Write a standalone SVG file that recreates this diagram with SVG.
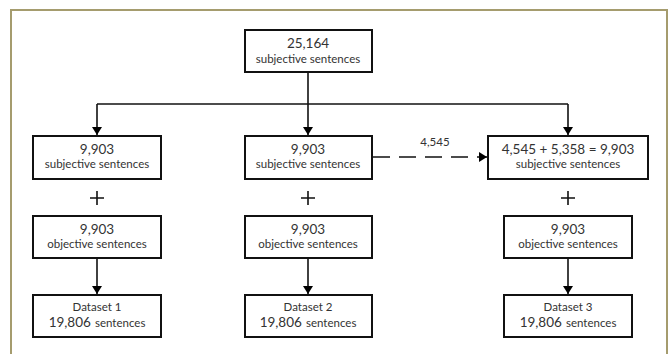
<svg xmlns="http://www.w3.org/2000/svg" width="671" height="354" viewBox="0 0 671 354">
<defs>
<marker id="ah" markerWidth="8" markerHeight="10" refX="8" refY="5" orient="auto" markerUnits="userSpaceOnUse">
<path d="M0,0 L8,5 L0,10 Z" fill="#000"/>
</marker>
<style>
.box{fill:#fff;stroke:#111;stroke-width:2}
.ln{fill:none;stroke:#111;stroke-width:1.6}
.t{font-family:Lato,"Open Sans","Liberation Sans",sans-serif;fill:#333;text-anchor:middle}
.big{font-size:13.5px}
.sm{font-size:11.5px}
.plus{stroke:#111;stroke-width:1.6}
</style>
</defs>
<rect x="0" y="0" width="671" height="354" fill="#fff"/>
<rect x="11" y="10" width="656" height="360" fill="#fff" stroke="#a59c6e" stroke-width="2"/>

<g id="connectors">
<path class="ln" d="M308,72 V104"/>
<path class="ln" d="M97,104 H568"/>
<path class="ln" d="M97,104 V135" marker-end="url(#ah)"/>
<path class="ln" d="M308,104 V135" marker-end="url(#ah)"/>
<path class="ln" d="M568,104 V135" marker-end="url(#ah)"/>
<path class="ln" d="M373,157 H487" stroke-dasharray="17 9" marker-end="url(#ah)"/>
<path class="ln" d="M97,258 V294" marker-end="url(#ah)"/>
<path class="ln" d="M308,258 V294" marker-end="url(#ah)"/>
<path class="ln" d="M568,258 V294" marker-end="url(#ah)"/>
<text class="t sm" x="435" y="146">4,545</text>
</g>

<g id="top">
<rect class="box" x="245" y="30" width="127" height="42"/>
<text class="t big" x="308" y="48">25,164</text>
<text class="t sm" x="308" y="63">subjective sentences</text>
</g>

<g id="subj1">
<rect class="box" x="33" y="136" width="128" height="43"/>
<text class="t big" x="97" y="154">9,903</text>
<text class="t sm" x="97" y="168">subjective sentences</text>
</g>
<g id="subj2">
<rect class="box" x="245" y="136" width="127" height="43"/>
<text class="t big" x="308" y="154">9,903</text>
<text class="t sm" x="308" y="168">subjective sentences</text>
</g>
<g id="subj3">
<rect class="box" x="488" y="136" width="160" height="43"/>
<text class="t big" x="568" y="154">4,545 + 5,358 = 9,903</text>
<text class="t sm" x="568" y="168">subjective sentences</text>
</g>

<g id="plus1"><path class="plus" d="M90,198 H104 M97,191 V205"/></g>
<g id="plus2"><path class="plus" d="M301,198 H315 M308,191 V205"/></g>
<g id="plus3"><path class="plus" d="M561,198 H575 M568,191 V205"/></g>

<g id="obj1">
<rect class="box" x="33" y="216" width="128" height="42"/>
<text class="t big" x="97" y="234">9,903</text>
<text class="t sm" x="97" y="248">objective sentences</text>
</g>
<g id="obj2">
<rect class="box" x="245" y="216" width="127" height="42"/>
<text class="t big" x="308" y="234">9,903</text>
<text class="t sm" x="308" y="248">objective sentences</text>
</g>
<g id="obj3">
<rect class="box" x="504" y="216" width="128" height="42"/>
<text class="t big" x="568" y="234">9,903</text>
<text class="t sm" x="568" y="248">objective sentences</text>
</g>

<g id="ds1">
<rect class="box" x="33" y="295" width="128" height="42"/>
<text class="t sm" x="97" y="311">Dataset 1</text>
<text class="t" x="97" y="327"><tspan class="big">19,806</tspan> <tspan class="sm">sentences</tspan></text>
</g>
<g id="ds2">
<rect class="box" x="245" y="295" width="127" height="42"/>
<text class="t sm" x="308" y="311">Dataset 2</text>
<text class="t" x="308" y="327"><tspan class="big">19,806</tspan> <tspan class="sm">sentences</tspan></text>
</g>
<g id="ds3">
<rect class="box" x="504" y="295" width="128" height="42"/>
<text class="t sm" x="568" y="311">Dataset 3</text>
<text class="t" x="568" y="327"><tspan class="big">19,806</tspan> <tspan class="sm">sentences</tspan></text>
</g>
</svg>
